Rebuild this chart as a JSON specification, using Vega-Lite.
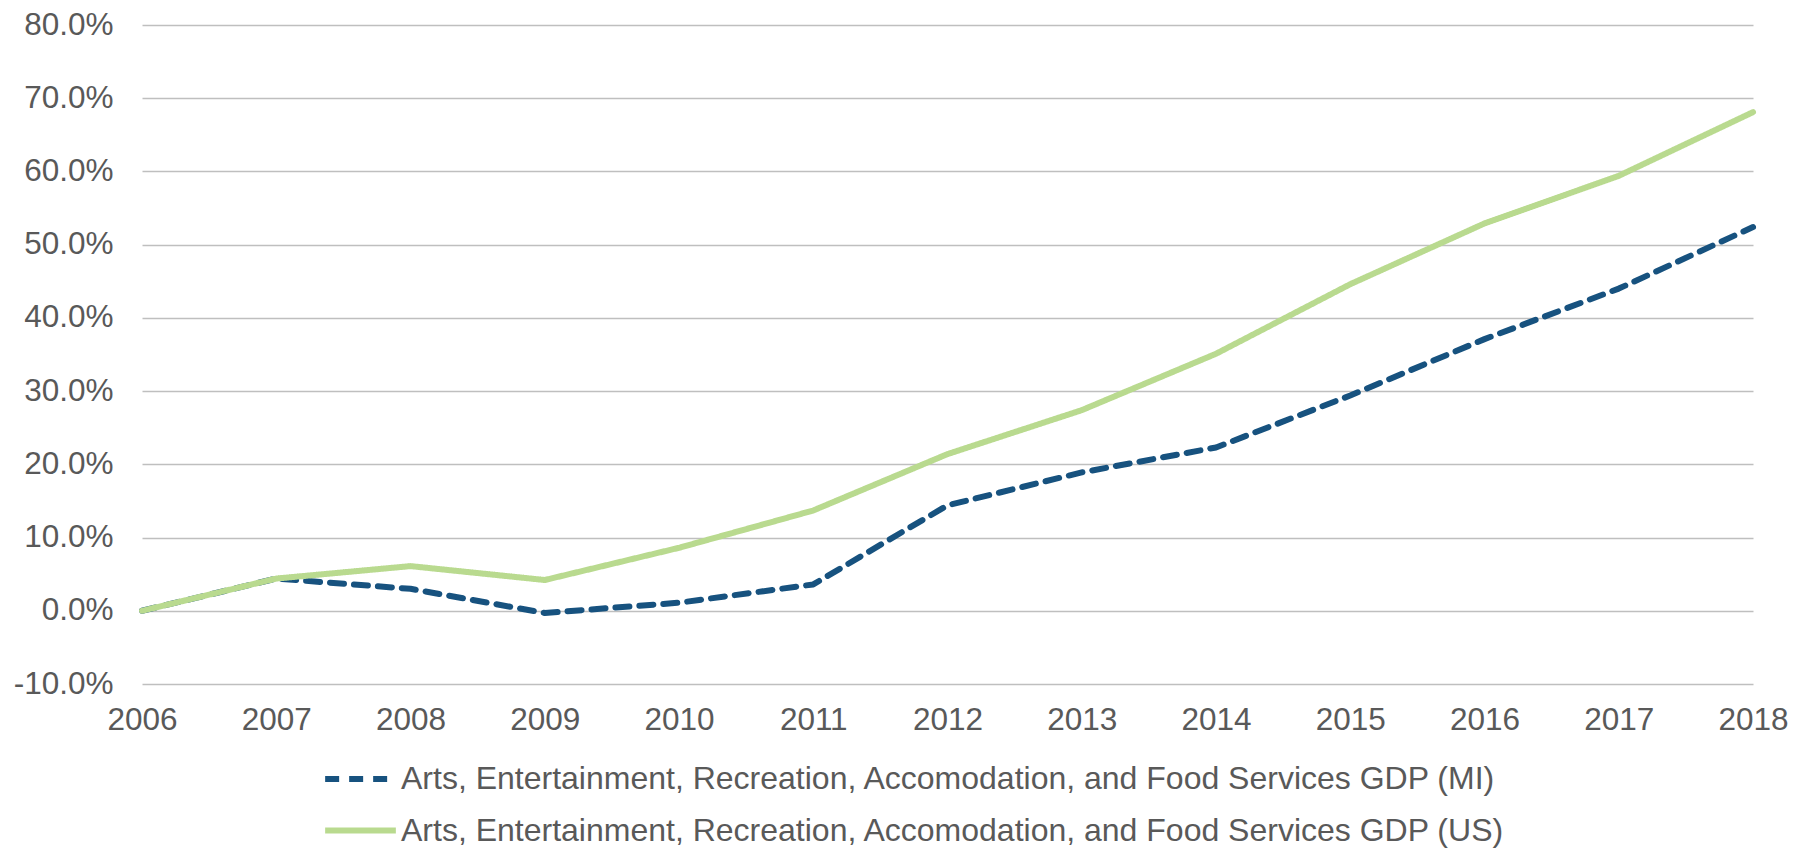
{
  "$schema": "https://vega.github.io/schema/vega-lite/v6.json",
  "width": 1611,
  "height": 659,
  "autosize": {"type": "none"},
  "padding": {"left": 142, "top": 25, "right": 54, "bottom": 164},
  "background": "white",
  "config": {
    "view": {"stroke": null},
    "font": "Liberation Sans"
  },
  "data": {
    "values": [
      {"year": 2006, "series": "Arts, Entertainment, Recreation, Accomodation, and Food Services GDP (MI)", "value": 0.0},
      {"year": 2007, "series": "Arts, Entertainment, Recreation, Accomodation, and Food Services GDP (MI)", "value": 0.044},
      {"year": 2008, "series": "Arts, Entertainment, Recreation, Accomodation, and Food Services GDP (MI)", "value": 0.030},
      {"year": 2009, "series": "Arts, Entertainment, Recreation, Accomodation, and Food Services GDP (MI)", "value": -0.003},
      {"year": 2010, "series": "Arts, Entertainment, Recreation, Accomodation, and Food Services GDP (MI)", "value": 0.011},
      {"year": 2011, "series": "Arts, Entertainment, Recreation, Accomodation, and Food Services GDP (MI)", "value": 0.036},
      {"year": 2012, "series": "Arts, Entertainment, Recreation, Accomodation, and Food Services GDP (MI)", "value": 0.144},
      {"year": 2013, "series": "Arts, Entertainment, Recreation, Accomodation, and Food Services GDP (MI)", "value": 0.189},
      {"year": 2014, "series": "Arts, Entertainment, Recreation, Accomodation, and Food Services GDP (MI)", "value": 0.223},
      {"year": 2015, "series": "Arts, Entertainment, Recreation, Accomodation, and Food Services GDP (MI)", "value": 0.294},
      {"year": 2016, "series": "Arts, Entertainment, Recreation, Accomodation, and Food Services GDP (MI)", "value": 0.371},
      {"year": 2017, "series": "Arts, Entertainment, Recreation, Accomodation, and Food Services GDP (MI)", "value": 0.440},
      {"year": 2018, "series": "Arts, Entertainment, Recreation, Accomodation, and Food Services GDP (MI)", "value": 0.524},
      {"year": 2006, "series": "Arts, Entertainment, Recreation, Accomodation, and Food Services GDP (US)", "value": 0.0},
      {"year": 2007, "series": "Arts, Entertainment, Recreation, Accomodation, and Food Services GDP (US)", "value": 0.044},
      {"year": 2008, "series": "Arts, Entertainment, Recreation, Accomodation, and Food Services GDP (US)", "value": 0.061},
      {"year": 2009, "series": "Arts, Entertainment, Recreation, Accomodation, and Food Services GDP (US)", "value": 0.042},
      {"year": 2010, "series": "Arts, Entertainment, Recreation, Accomodation, and Food Services GDP (US)", "value": 0.086},
      {"year": 2011, "series": "Arts, Entertainment, Recreation, Accomodation, and Food Services GDP (US)", "value": 0.137},
      {"year": 2012, "series": "Arts, Entertainment, Recreation, Accomodation, and Food Services GDP (US)", "value": 0.214},
      {"year": 2013, "series": "Arts, Entertainment, Recreation, Accomodation, and Food Services GDP (US)", "value": 0.274},
      {"year": 2014, "series": "Arts, Entertainment, Recreation, Accomodation, and Food Services GDP (US)", "value": 0.351},
      {"year": 2015, "series": "Arts, Entertainment, Recreation, Accomodation, and Food Services GDP (US)", "value": 0.446},
      {"year": 2016, "series": "Arts, Entertainment, Recreation, Accomodation, and Food Services GDP (US)", "value": 0.529},
      {"year": 2017, "series": "Arts, Entertainment, Recreation, Accomodation, and Food Services GDP (US)", "value": 0.594},
      {"year": 2018, "series": "Arts, Entertainment, Recreation, Accomodation, and Food Services GDP (US)", "value": 0.681}
    ]
  },
  "mark": {"type": "line", "strokeWidth": 6, "strokeCap": "round", "strokeJoin": "round"},
  "encoding": {
    "x": {
      "field": "year",
      "type": "quantitative",
      "scale": {"domain": [2006, 2018], "nice": false, "zero": false},
      "axis": {
        "title": null,
        "values": [2006, 2007, 2008, 2009, 2010, 2011, 2012, 2013, 2014, 2015, 2016, 2017, 2018],
        "format": "d",
        "grid": false,
        "domain": false,
        "ticks": false,
        "labelFontSize": 31.5,
        "labelColor": "#595959",
        "labelPadding": 20,
        "labelFlush": false
      }
    },
    "y": {
      "field": "value",
      "type": "quantitative",
      "scale": {"domain": [-0.1, 0.8], "nice": false, "zero": false},
      "axis": {
        "title": null,
        "values": [-0.1, 0, 0.1, 0.2, 0.3, 0.4, 0.5, 0.6, 0.7, 0.8],
        "format": ".1%",
        "labelExpr": "replace(datum.label, '\u2212', '-')",
        "grid": true,
        "gridColor": "#bfbfbf",
        "gridWidth": 1.5,
        "domain": false,
        "ticks": false,
        "labelFontSize": 31.5,
        "labelColor": "#595959",
        "labelPadding": 29
      }
    },
    "color": {
      "field": "series",
      "type": "nominal",
      "scale": {"range": ["#17527f", "#b9da8f"]},
      "legend": {
        "title": null,
        "orient": "none",
        "legendX": 180,
        "legendY": 739,
        "direction": "vertical",
        "labelFontSize": 32,
        "labelColor": "#595959",
        "labelLimit": 0,
        "symbolType": "stroke",
        "symbolStrokeWidth": 6,
        "symbolSize": 5000,
        "labelOffset": 2,
        "clipHeight": 30,
        "rowPadding": 19.5
      }
    },
    "strokeDash": {
      "field": "series",
      "type": "nominal",
      "scale": {"range": [[14, 10], [1, 0]]},
      "legend": {
        "title": null,
        "orient": "none",
        "legendX": 180,
        "legendY": 739,
        "direction": "vertical",
        "labelFontSize": 32,
        "labelColor": "#595959",
        "labelLimit": 0,
        "symbolType": "stroke",
        "symbolStrokeWidth": 6,
        "symbolSize": 5000,
        "labelOffset": 2,
        "clipHeight": 30,
        "rowPadding": 19.5
      }
    }
  }
}
